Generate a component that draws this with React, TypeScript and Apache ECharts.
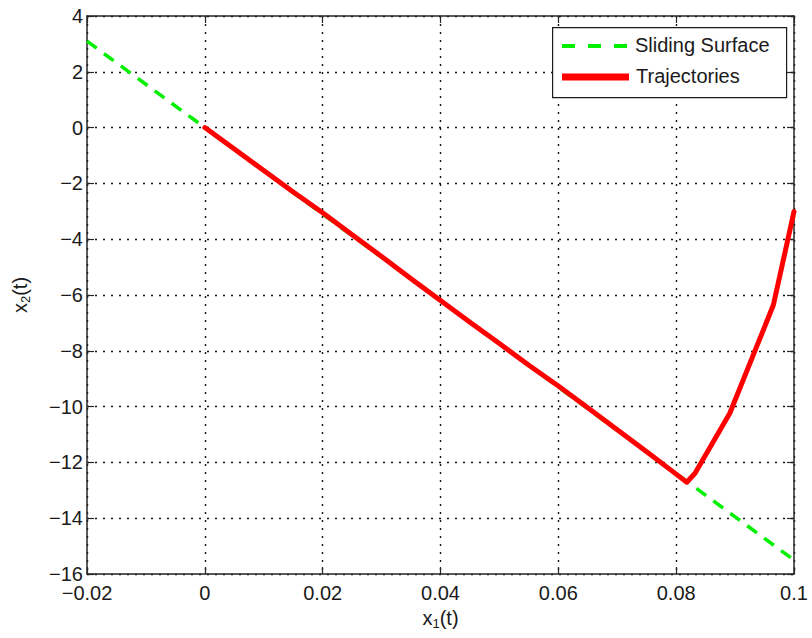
import React, { useEffect, useRef } from "react";
import * as echarts from "echarts";

const surfaceX = [-0.02, 0.1];
const surfaceY = [3.1, -15.5];

const trajX = [0, 0.005, 0.01, 0.015, 0.02, 0.025, 0.03, 0.035, 0.04, 0.045, 0.05, 0.055, 0.06, 0.065, 0.07, 0.075, 0.08, 0.0818, 0.0832, 0.0891, 0.0965, 0.1];
const trajY = [0, -0.77, -1.54, -2.31, -3.05, -3.84, -4.62, -5.42, -6.2, -6.98, -7.74, -8.52, -9.26, -10.04, -10.83, -11.62, -12.42, -12.71, -12.39, -10.24, -6.36, -3.01];

const xTicks = { min: -0.02, max: 0.1, interval: 0.02 };
const yTicks = { min: -16, max: 4, interval: 2 };

const legendNames = ["Sliding Surface", "Trajectories"];

const FONT = "Liberation Sans, Arial, Helvetica, sans-serif";

function fmt(v: number, digits: number) {
  const r = Math.round(v * Math.pow(10, digits)) / Math.pow(10, digits);
  if (Math.abs(r) < 1e-12) return "0";
  return r < 0 ? "\u2212" + String(Math.abs(r)) : String(r);
}

export default function App() {
  const ref = useRef<HTMLDivElement>(null);
  useEffect(() => {
    if (!ref.current) return;
    const chart = echarts.init(ref.current, undefined, { renderer: "svg" });
    const axisLine = { show: true, onZero: false, lineStyle: { color: "#262626", width: 1.5 } };
    const tick = { show: true, inside: true, length: 7, lineStyle: { color: "#262626", width: 1.2 } };
    const split = { show: true, lineStyle: { color: "#111", width: 1.4, type: [2, 6] as any } };
    const labelStyle = { color: "#1a1a1a", fontSize: 20, fontFamily: FONT };
    const nameRich = {
      a: { fontSize: 20, fontFamily: FONT, color: "#1a1a1a" },
      b: { fontSize: 13, fontFamily: FONT, color: "#1a1a1a", padding: [12, 0, 0, 0] },
    };
    chart.setOption({
      animation: false,
      grid: { left: 87, top: 16, right: 18, bottom: 64, containLabel: false },
      xAxis: [
        {
          type: "value", ...xTicks, position: "bottom",
          axisLine, axisTick: tick, splitLine: split,
          axisLabel: { ...labelStyle, margin: 9, formatter: (v: number) => fmt(v, 2) },
          name: "{a|x}{b|1}{a|(t)}", nameLocation: "middle", nameGap: 30,
          nameTextStyle: { rich: nameRich },
        },
        {
          type: "value", ...xTicks, position: "top",
          axisLine, axisTick: tick, splitLine: { show: false }, axisLabel: { show: false },
        },
      ],
      yAxis: [
        {
          type: "value", ...yTicks, position: "left",
          axisLine, axisTick: tick, splitLine: split,
          axisLabel: { ...labelStyle, margin: 4, formatter: (v: number) => fmt(v, 0) },
          name: "{a|x}{b|2}{a|(t)}", nameLocation: "middle", nameGap: 55, nameRotate: 90,
          nameTextStyle: { rich: nameRich },
        },
        {
          type: "value", ...yTicks, position: "right",
          axisLine, axisTick: tick, splitLine: { show: false }, axisLabel: { show: false },
        },
      ],
      series: [
        {
          name: legendNames[0], type: "line", showSymbol: false, symbol: "none",
          data: surfaceX.map((x, i) => [x, surfaceY[i]]),
          lineStyle: { color: "#00f000", width: 3.5, type: [12, 9] as any },
          z: 2,
        },
        {
          name: legendNames[1], type: "line", showSymbol: false, symbol: "none",
          data: trajX.map((x, i) => [x, trajY[i]]),
          lineStyle: { color: "#ff0000", width: 5, join: "round", cap: "round" } as any,
          z: 3,
        },
      ],
      graphic: [
        {
          type: "rect", left: 552, top: 27, z: 10,
          shape: { width: 234, height: 70 },
          style: { fill: "#fff", stroke: "#1a1a1a", lineWidth: 1.2 },
        },
        {
          type: "line", z: 11,
          shape: { x1: 562, y1: 46, x2: 629, y2: 46 },
          style: { stroke: "#00f000", lineWidth: 4, lineDash: [13, 13] },
        },
        {
          type: "line", z: 11,
          shape: { x1: 562, y1: 77, x2: 629, y2: 77 },
          style: { stroke: "#ff0000", lineWidth: 7 },
        },
        {
          type: "text", z: 11, left: 635, top: 35,
          style: { text: legendNames[0], fontSize: 20, fontFamily: FONT, fill: "#1a1a1a" },
        },
        {
          type: "text", z: 11, left: 636, top: 66,
          style: { text: legendNames[1], fontSize: 20, fontFamily: FONT, fill: "#1a1a1a" },
        },
      ],
    });
    return () => chart.dispose();
  }, []);
  return (
    <div
      ref={ref}
      style={{ position: "fixed", left: 0, top: 0, width: 812, height: 638, background: "#fff" }}
    />
  );
}
